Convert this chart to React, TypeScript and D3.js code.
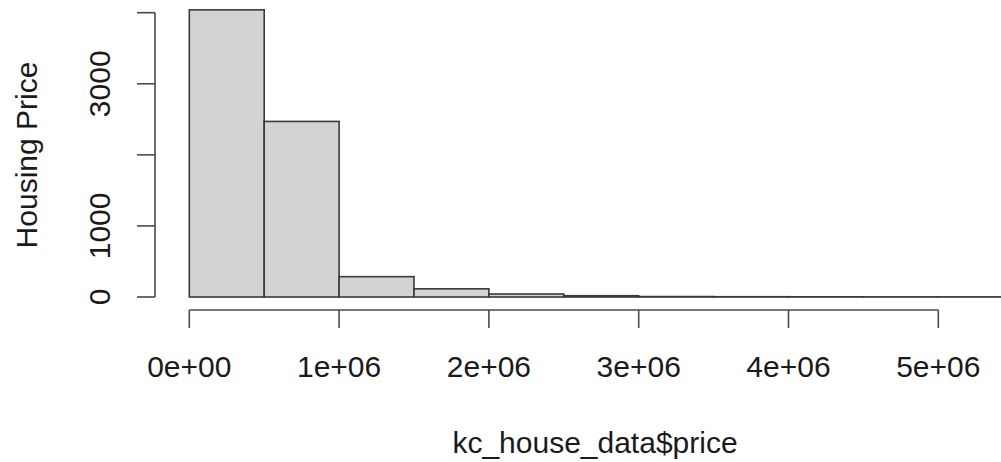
import React from "react";
import * as d3 from "d3";

// histogram of kc_house_data$price, bins of 500k
const binStarts = [0, 5e5, 1e6, 1.5e6, 2e6, 2.5e6, 3e6, 3.5e6, 4e6, 4.5e6, 5e6, 5.5e6];
const binWidth = 5e5;
const counts = [4040, 2470, 286, 115, 42, 18, 6, 4, 3, 2, 2, 1];

const xTicks = [0, 1e6, 2e6, 3e6, 4e6, 5e6];
const xTickLabels = ["0e+00", "1e+06", "2e+06", "3e+06", "4e+06", "5e+06"];
const yTicks = [0, 1000, 2000, 3000, 4000];
const yLabelled = [0, 1000, 3000];

const W = 1001;
const H = 462;
const font = "'Liberation Sans', Arial, Helvetica, sans-serif";
const textColor = "#1a1a1a";

export default function App() {
  const x = d3.scaleLinear().domain([0, 5e6]).range([189.3, 938.3]);
  const y = d3.scaleLinear().domain([0, 4000]).range([297, 12.7]);

  const axisY = 310; // x axis line
  const axisX = 155; // y axis line
  const tickLen = 18;

  return (
    <div style={{ position: "absolute", left: 0, top: 0 }}>
      <svg width={W} height={H} style={{ display: "block", background: "#fff" }}>
        {/* bars */}
        <g>
          {binStarts.map((b, i) => (
            <rect
              key={i}
              x={x(b)}
              y={y(counts[i])}
              width={x(b + binWidth) - x(b)}
              height={y(0) - y(counts[i])}
              fill="#d3d3d3"
              stroke="#3a3a3a"
              strokeWidth={1.6}
            />
          ))}
        </g>

        {/* x axis */}
        <g stroke="#4a4a4a" strokeWidth={1.6} fill="none">
          <line x1={x(0)} x2={x(5e6)} y1={axisY} y2={axisY} />
          {xTicks.map((t) => (
            <line key={t} x1={x(t)} x2={x(t)} y1={axisY} y2={axisY + tickLen} />
          ))}
        </g>
        <g fontFamily={font} fontSize={30} fill={textColor} textAnchor="middle">
          {xTicks.map((t, i) => (
            <text key={t} x={x(t)} y={377}>
              {xTickLabels[i]}
            </text>
          ))}
          <text x={595} y={453}>kc_house_data$price</text>
        </g>

        {/* y axis */}
        <g stroke="#4a4a4a" strokeWidth={1.6} fill="none">
          <line x1={axisX} x2={axisX} y1={y(0)} y2={y(4000)} />
          {yTicks.map((t) => (
            <line key={t} x1={axisX - tickLen} x2={axisX} y1={y(t)} y2={y(t)} />
          ))}
        </g>
        <g fontFamily={font} fontSize={30} fill={textColor} textAnchor="middle">
          {yLabelled.map((t) => (
            <text key={t} transform={`translate(110,${y(t)}) rotate(-90)`}>
              {t}
            </text>
          ))}
          <text transform={`translate(36.5,155) rotate(-90)`}>Housing Price</text>
        </g>
      </svg>
    </div>
  );
}
